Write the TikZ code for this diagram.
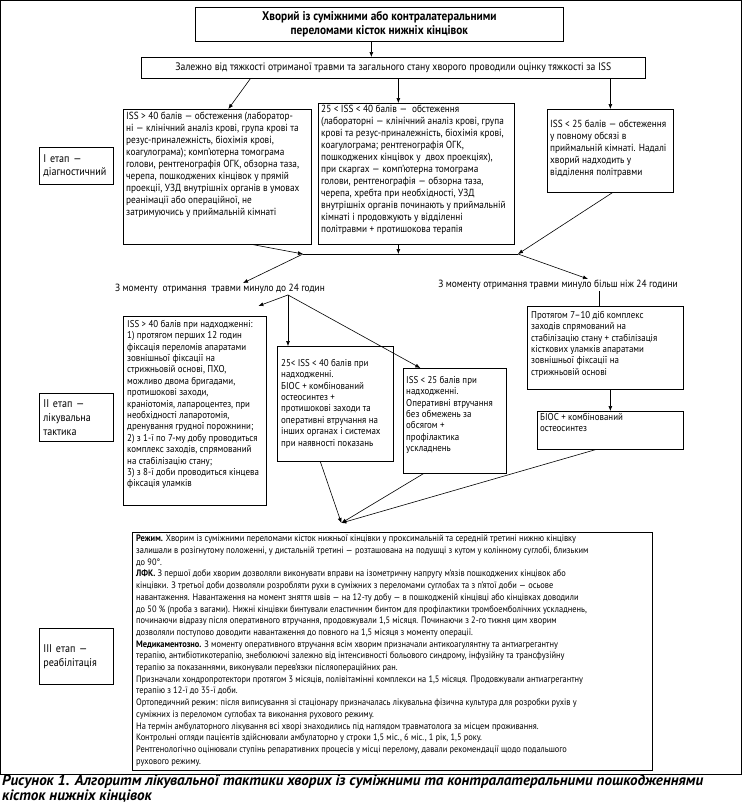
\documentclass[tikz,border=0pt]{standalone}
\usepackage{fontspec}
\setmainfont{PT Sans}[FakeStretch=0.9]
\newfontfamily\capfont{PT Sans}
\usetikzlibrary{arrows.meta}
\begin{document}
\begin{tikzpicture}[x=1pt,y=-1pt,
  box/.style={draw, line width=0.7pt, inner sep=0pt, anchor=north west},
  txt/.style={font=\fontsize{9.3}{11.7}\selectfont, align=left, anchor=north west, inner sep=0pt},
  txta/.style={font=\fontsize{10.3}{12}\selectfont, align=left, anchor=north west, inner sep=0pt},
  txtb/.style={font=\fontsize{9.9}{11.4}\selectfont, align=left, anchor=north west, inner sep=0pt},
  lbl/.style={font=\fontsize{10.4}{12}\selectfont, inner sep=1pt},
  stg/.style={draw, line width=0.7pt, anchor=north west, inner xsep=4pt, inner ysep=0pt, align=left, font=\fontsize{11.2}{13.8}\selectfont},
  arr/.style={-{Latex[length=5pt,width=4pt]}, line width=0.6pt},
  ln/.style={line width=0.6pt}]
\useasboundingbox (0,0) rectangle (742,804);
\fill[white] (0,0) rectangle (742,804);
\draw[line width=0.8pt] (0.5,0.5) rectangle (741.5,774);

% top
\node[box, minimum width=368pt, minimum height=34pt, align=center, font=\bfseries\fontsize{12.6}{14.5}\selectfont] (T) at (195,7) {Хворий із суміжними або контралатеральними\\переломами кісток нижніх кінцівок};
\node[box, minimum width=504pt, minimum height=21pt, font=\fontsize{10.8}{12}\selectfont] (S) at (141,57) {Залежно від тяжкості отриманої травми та загального стану хворого проводили оцінку тяжкості за ISS};
\draw[arr] ([xshift=-8pt]T.south) -- ([xshift=-22pt]S.north);

% stage 1
\node[stg, minimum width=74pt, minimum height=37pt, text width=66pt] (st1) at (39,147) {I етап —\\діагностичний};
\node[box, minimum width=188pt, minimum height=135pt] (L1) at (123,109) {};
\node[txta] (L1t) at (126,112) {ISS > 40 балів — обстеження (лаборатор-\\ні — клінічний аналіз крові, група крові та\\резус-приналежність, біохімія крові,\\коагулограма); комп’ютерна томограма\\голови, рентгенографія ОГК, обзорна таза,\\черепа, пошкоджених кінцівок у прямій\\проекції, УЗД внутрішніх органів в умовах\\реанімації або операційної, не\\затримуючись у приймальній кімнаті};
\node[box, minimum width=196pt, minimum height=141pt] (M1) at (318,103) {};
\node[txta] (M1t) at (321,105) {25 < ISS < 40 балів —\ \ обстеження\\(лабораторні — клінічний аналіз крові, група\\крові та резус-приналежність, біохімія крові,\\коагулограма; рентгенографія ОГК,\\пошкоджених кінцівок у\ \ двох проекціях),\\при скаргах — комп’ютерна томограма\\голови, рентгенографія — обзорна таза,\\черепа, хребта при необхідності, УЗД\\внутрішніх органів починають у приймальній\\кімнаті і продовжують у відділенні\\політравми + протишокова терапія};
\node[box, minimum width=126pt, minimum height=83pt] (R1) at (547,109) {};
\node[txta] (R1t) at (550,120) {ISS < 25 балів — обстеження\\у повному обсязі в\\приймальній кімнаті. Надалі\\хворий надходить у\\відділення політравми};

\draw[arr] ([xshift=-143pt]S.south) -- ([xshift=11pt]L1.north);
\draw[arr] ([xshift=5pt]S.south) -- ([xshift=-18pt]M1.north);
\draw[arr] ([xshift=217pt]S.south) -- (R1.north);

\coordinate (h1) at (303,254);
\coordinate (h2) at (518,254);
\draw[ln] (h1) -- (h2);
\draw[arr] ([xshift=36pt]L1.south) -- (h1);
\draw[arr] ([xshift=-18pt]M1.south) -- ([xshift=-18pt]M1.south |- h1);
\draw[arr] ([xshift=2pt]R1.south) -- (h2);

\node[lbl] (LL) at (220,289) {З моменту\ \ отримання\ \ травми минуло до 24 годин};
\node[lbl] (RL) at (558,285) {З моменту отримання травми минуло більш ніж 24 години};
\draw[arr] (h1) -- ([xshift=23pt]LL.north);
\draw[arr] (h2) -- ([xshift=30pt]RL.north);

% stage 2
\node[stg, minimum width=74pt, minimum height=48pt, text width=66pt] (st2) at (39,393) {II етап —\\лікувальна\\тактика};
\node[box, minimum width=143pt, minimum height=189pt] (A) at (123,316) {};
\node[txtb] (At) at (127,320) {ISS > 40 балів при надходженні:\\1) протягом перших 12 годин\\фіксація переломів апаратами\\зовнішньої фіксації на\\стрижньовій основі, ПХО,\\можливо двома бригадами,\\протишокові заходи,\\краніотомія, лапароцентез, при\\необхідності лапаротомія,\\дренування грудної порожнини;\\2) з 1-ї по 7-му добу проводиться\\комплекс заходів, спрямований\\на стабілізацію стану;\\3) з 8-ї доби проводиться кінцева\\фіксація уламків};
\node[box, minimum width=116pt, minimum height=115pt] (B) at (277,346) {};
\node[txtb] (Bt) at (281,359) {25< ISS < 40 балів при\\надходженні.\\БІОС + комбінований\\остеосинтез +\\протишокові заходи та\\оперативні втручання на\\інших органах і системах\\при наявності показань};
\node[box, minimum width=103pt, minimum height=105pt] (C) at (403,368) {};
\node[txtb] (Ct) at (406,376) {ISS < 25 балів при\\надходженні.\\Оперативні втручання\\без обмежень за\\обсягом +\\профілактика\\ускладнень};
\node[box, minimum width=156pt, minimum height=83pt] (D) at (527,306) {};
\node[txtb] (Dt) at (531,311) {Протягом 7–10 діб комплекс\\заходів спрямований на\\стабілізацію стану + стабілізація\\кісткових уламків апаратами\\зовнішньої фіксації на\\стрижньовій основі};
\node[box, minimum width=146pt, minimum height=38pt] (E) at (537,411) {};
\node[txtb] (Et) at (540,413) {БІОС + комбінований\\остеосинтез};

\coordinate (J) at ([xshift=68pt]LL.south);
\draw[arr] (J) -- ([xshift=63.5pt,yshift=10pt]A.north);
\draw[arr] (J) -- (J |- B.north);
\draw[arr] (J) -- ([xshift=-34.5pt]C.north);
\draw[ln] ([xshift=41pt]RL.south) -- ([xshift=41pt]RL.south |- D.north);
\draw[arr] ([xshift=5pt]D.south) -- ([xshift=5pt]D.south |- E.north);

% stage 3
\node[stg, minimum width=74pt, minimum height=56pt, text width=66pt] (st3) at (39,628) {III етап —\\реабілітація};
\node[box, minimum width=520pt, minimum height=238pt] (F) at (132,532) {};
\node[txt] (Ft) at (136,535) {\textbf{Режим.} Хворим із суміжними переломами кісток нижньої кінцівки у проксимальній та середній третині нижню кінцівку\\залишали в розігнутому положенні, у дистальній третині — розташована на подушці з кутом у колінному суглобі, близьким\\до 90°.\\\textbf{ЛФК.} З першої доби хворим дозволяли виконувати вправи на ізометричну напругу м’язів пошкоджених кінцівок або\\кінцівки. З третьої доби дозволяли розробляти рухи в суміжних з переломами суглобах та з п’ятої доби — осьове\\навантаження. Навантаження на момент зняття швів — на 12-ту добу — в пошкодженій кінцівці або кінцівках доводили\\до 50 \% (проба з вагами). Нижні кінцівки бинтували еластичним бинтом для профілактики тромбоемболічних ускладнень,\\починаючи відразу після оперативного втручання, продовжували 1,5 місяця. Починаючи з 2-го тижня цим хворим\\дозволяли поступово доводити навантаження до повного на 1,5 місяця з моменту операції.\\\textbf{Медикаментозно.} З моменту оперативного втручання всім хворим призначали антикоагулянтну та антиагрегантну\\терапію, антибіотикотерапію, знеболюючі залежно від інтенсивності больового синдрому, інфузійну та трансфузійну\\терапію за показаннями, виконували перев’язки післяопераційних ран.\\Призначали хондропротектори протягом 3 місяців, полівітамінні комплекси на 1,5 місяця. Продовжували антиагрегантну\\терапію з 12-ї до 35-ї доби.\\Ортопедичний режим: після виписування зі стаціонару призначалась лікувальна фізична культура для розробки рухів у\\суміжних із переломом суглобах та виконання рухового режиму.\\На термін амбулаторного лікування всі хворі знаходились під наглядом травматолога за місцем проживання.\\Контрольні огляди пацієнтів здійснювали амбулаторно у строки 1,5 міс., 6 міс., 1 рік, 1,5 року.\\Рентгенологічно оцінювали ступінь репаративних процесів у місці перелому, давали рекомендації щодо подальшого\\рухового режиму.};

\coordinate (P) at ([xshift=-51pt,yshift=9pt]F.north);
\draw[arr] ([xshift=-15pt]B.south) -- (P);
\draw[arr] ([xshift=-31.5pt]C.south) -- (P);
\draw[arr] ([xshift=-15pt]E.south) -- (P);

% caption
\node[anchor=south west, inner sep=0pt, align=left, font=\capfont\bfseries\itshape\fontsize{15.1}{13.4}\selectfont] (cap) at (2,802.5) {Рисунок 1. Алгоритм лікувальної тактики хворих із суміжними та контралатеральними пошкодженнями\\кісток нижніх кінцівок};
\end{tikzpicture}
\end{document}
